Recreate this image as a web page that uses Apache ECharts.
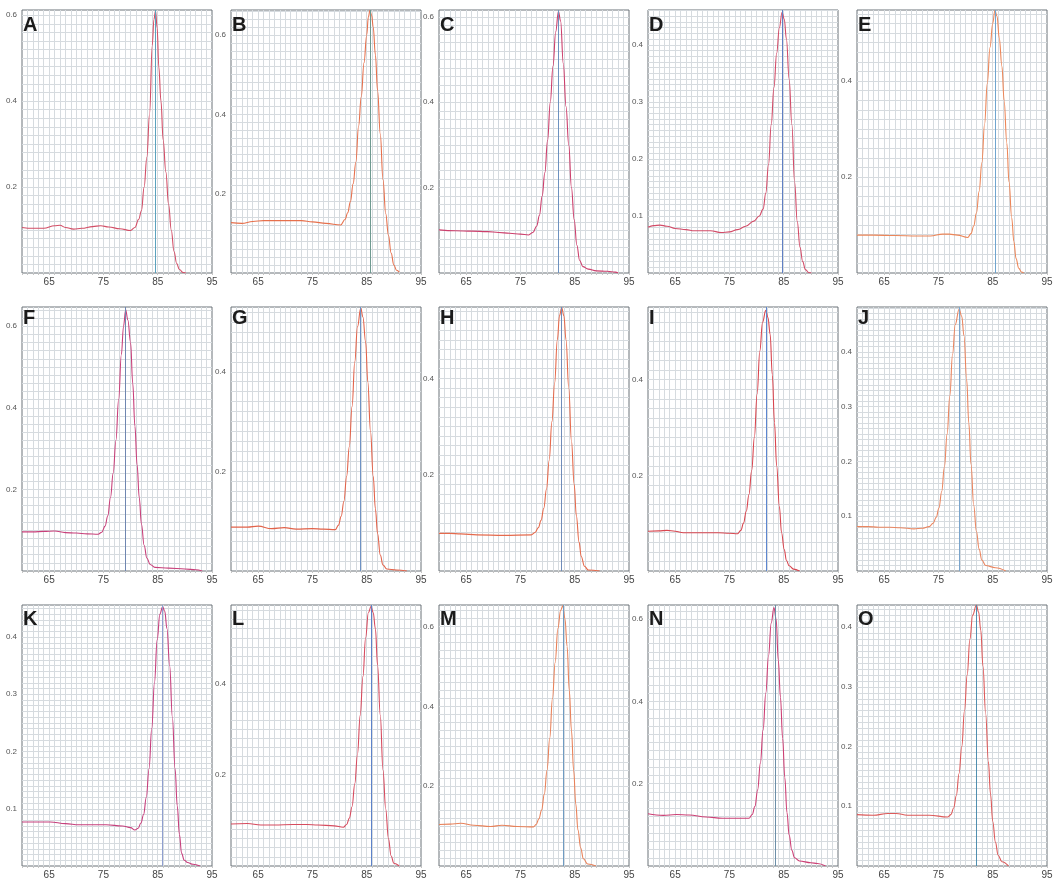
<!DOCTYPE html>
<html>
<head>
<meta charset="utf-8">
<title>Melt curves A-O</title>
<script src="https://cdn.jsdelivr.net/npm/echarts@6/dist/echarts.min.js"></script>
<style>
    html, body { margin: 0; padding: 0; background: #fff; }
    #main { width: 1060px; height: 880px; }
</style>
</head>
<body>
<div id="main"></div>
<script>
// derivative melt curves, [temperature, -dF/dT]
var curveA = [[60,0.106],[62,0.104],[64,0.104],[66,0.110],[67,0.111],[68,0.106],[69.5,0.102],[71,0.104],[73,0.108],[74.5,0.110],[76,0.107],[78,0.103],[80,0.099],[80.8,0.106],[81.5,0.125],[82,0.145],[82.5,0.2],[83,0.27],[83.5,0.37],[84,0.53],[84.3,0.59],[84.6,0.61],[84.9,0.57],[85.2,0.48],[85.6,0.40],[86,0.31],[86.5,0.235],[87,0.16],[87.5,0.10],[88,0.05],[88.5,0.022],[89,0.008],[89.7,0.001],[90.2,0]];
var curveB = [[60,0.127],[62,0.125],[64,0.13],[66,0.132],[70,0.132],[73,0.132],[75,0.129],[77.5,0.125],[80.2,0.121],[81,0.135],[81.5,0.152],[82,0.18],[82.5,0.225],[83,0.28],[83.5,0.37],[84,0.445],[84.5,0.53],[85,0.60],[85.3,0.645],[85.6,0.662],[85.9,0.65],[86.2,0.62],[86.6,0.55],[87,0.46],[87.5,0.35],[88,0.235],[88.5,0.15],[89,0.095],[89.5,0.05],[90,0.02],[90.5,0.007],[91,0.002]];
var curveC = [[60,0.101],[63,0.099],[66,0.098],[69,0.097],[71,0.095],[73,0.093],[75,0.091],[76.5,0.089],[77.3,0.095],[78,0.11],[78.5,0.135],[79,0.18],[79.5,0.235],[80,0.31],[80.5,0.40],[81,0.485],[81.5,0.565],[82,0.613],[82.4,0.59],[82.9,0.49],[83.4,0.39],[83.9,0.30],[84.4,0.20],[84.9,0.125],[85.4,0.065],[85.9,0.03],[86.5,0.015],[87.5,0.009],[89,0.005],[91,0.004],[92.5,0.002],[93,0]];
var curveD = [[60,0.080],[61,0.083],[62.2,0.084],[63.5,0.082],[65,0.078],[67,0.076],[68.5,0.074],[71.5,0.074],[73.5,0.071],[75,0.072],[76.5,0.076],[78,0.082],[79.5,0.091],[80.5,0.1],[81.2,0.112],[81.7,0.14],[82.2,0.19],[82.7,0.26],[83.2,0.325],[83.7,0.385],[84.2,0.43],[84.7,0.457],[85.1,0.445],[85.5,0.41],[86,0.34],[86.5,0.26],[87,0.16],[87.5,0.09],[88,0.045],[88.5,0.02],[89,0.006],[89.6,0.001],[90.1,0]];
var curveE = [[60,0.079],[63,0.079],[67,0.078],[71,0.077],[73.5,0.077],[75.8,0.081],[77,0.081],[78.5,0.079],[80.4,0.074],[81,0.082],[81.5,0.098],[82,0.125],[82.5,0.17],[83,0.23],[83.5,0.31],[84,0.395],[84.5,0.47],[85,0.52],[85.4,0.547],[85.8,0.535],[86.2,0.49],[86.7,0.43],[87.1,0.36],[87.6,0.27],[88,0.19],[88.5,0.115],[88.9,0.065],[89.3,0.03],[89.8,0.01],[90.3,0.002],[90.7,0]];
var curveF = [[60,0.096],[62,0.096],[64,0.097],[66,0.098],[68,0.094],[70,0.093],[72,0.091],[74,0.090],[74.7,0.095],[75.3,0.11],[75.8,0.135],[76.3,0.18],[76.8,0.24],[77.3,0.32],[77.8,0.42],[78.3,0.53],[78.7,0.6],[79.1,0.64],[79.5,0.615],[80,0.56],[80.4,0.46],[80.8,0.355],[81.2,0.26],[81.6,0.18],[82,0.115],[82.5,0.063],[83,0.032],[83.6,0.016],[84.5,0.009],[87,0.007],[90,0.005],[92,0.003],[93.2,0]];
var curveG = [[60,0.088],[63,0.088],[65,0.090],[67.5,0.085],[69.8,0.087],[72,0.084],[75,0.085],[77,0.084],[79.2,0.083],[79.8,0.092],[80.3,0.11],[80.8,0.14],[81.3,0.19],[81.8,0.25],[82.3,0.33],[82.8,0.42],[83.3,0.49],[83.9,0.528],[84.3,0.51],[84.8,0.46],[85.2,0.38],[85.7,0.28],[86.2,0.19],[86.6,0.125],[87,0.075],[87.5,0.032],[88,0.012],[88.7,0.004],[90.5,0.002],[92.4,0]];
var curveH = [[60,0.078],[62,0.078],[64,0.077],[67,0.075],[72,0.074],[77,0.075],[77.7,0.08],[78.3,0.09],[78.8,0.105],[79.3,0.13],[79.8,0.17],[80.3,0.23],[80.8,0.31],[81.3,0.39],[81.8,0.48],[82.2,0.53],[82.6,0.547],[83,0.53],[83.4,0.48],[83.9,0.38],[84.4,0.27],[84.9,0.18],[85.3,0.115],[85.8,0.06],[86.2,0.03],[86.8,0.01],[87.5,0.002],[89.6,0]];
var curveI = [[60,0.083],[62,0.084],[63.5,0.085],[65,0.083],[66.5,0.080],[70,0.080],[73,0.080],[75,0.079],[76.5,0.078],[77.1,0.085],[77.6,0.1],[78.1,0.125],[78.6,0.16],[79.1,0.21],[79.6,0.28],[80.1,0.37],[80.6,0.46],[81.1,0.52],[81.7,0.545],[82.1,0.53],[82.5,0.495],[82.9,0.41],[83.3,0.31],[83.7,0.22],[84.2,0.135],[84.6,0.08],[85.1,0.045],[85.5,0.022],[86,0.011],[86.8,0.004],[87.9,0]];
var curveJ = [[60,0.081],[62,0.081],[64,0.080],[66,0.080],[68,0.079],[70.5,0.077],[72,0.078],[73.3,0.081],[74,0.087],[74.6,0.098],[75.1,0.115],[75.6,0.145],[76.1,0.19],[76.6,0.25],[77.1,0.32],[77.6,0.395],[78.1,0.45],[78.8,0.478],[79.3,0.465],[79.7,0.43],[80.2,0.35],[80.6,0.27],[81,0.195],[81.5,0.12],[82,0.072],[82.5,0.04],[83,0.02],[83.7,0.01],[85.5,0.006],[87.4,0]];
var curveK = [[60,0.077],[63,0.077],[65.2,0.077],[68,0.074],[70.5,0.072],[73,0.072],[75.5,0.072],[78.5,0.070],[80,0.067],[80.8,0.063],[81.4,0.066],[81.9,0.075],[82.4,0.09],[82.9,0.12],[83.4,0.17],[83.9,0.24],[84.4,0.32],[84.9,0.395],[85.4,0.44],[85.9,0.453],[86.3,0.445],[86.7,0.415],[87.2,0.35],[87.7,0.26],[88.2,0.17],[88.6,0.105],[89,0.055],[89.4,0.022],[89.9,0.01],[90.5,0.006],[91.5,0.003],[92.8,0]];
var curveL = [[60,0.092],[63,0.093],[65.5,0.090],[68,0.090],[71.5,0.091],[74,0.091],[76,0.090],[79,0.088],[80.7,0.085],[81.3,0.091],[81.8,0.105],[82.3,0.13],[82.8,0.18],[83.3,0.245],[83.8,0.33],[84.3,0.415],[84.8,0.5],[85.3,0.555],[85.8,0.569],[86.2,0.555],[86.6,0.52],[87,0.44],[87.5,0.33],[88,0.21],[88.5,0.125],[89,0.06],[89.5,0.022],[90,0.006],[91,0]];
var curveM = [[60,0.104],[62,0.105],[64,0.107],[66.4,0.102],[69.5,0.099],[71.6,0.102],[74.4,0.099],[77.4,0.098],[77.9,0.104],[78.4,0.118],[78.9,0.14],[79.4,0.18],[79.9,0.24],[80.4,0.32],[80.9,0.42],[81.4,0.51],[81.9,0.595],[82.4,0.64],[82.8,0.652],[83.2,0.62],[83.6,0.55],[84,0.44],[84.4,0.34],[84.8,0.24],[85.2,0.155],[85.6,0.09],[86.1,0.045],[86.6,0.018],[87.4,0.005],[88.9,0]];
var curveN = [[60,0.127],[62.8,0.123],[65.2,0.125],[67.6,0.124],[70.7,0.119],[73.7,0.116],[76,0.116],[78.6,0.116],[79.2,0.125],[79.7,0.145],[80.2,0.185],[80.7,0.25],[81.2,0.33],[81.7,0.42],[82.2,0.51],[82.7,0.59],[83.2,0.628],[83.6,0.6],[84,0.5],[84.4,0.41],[84.8,0.31],[85.2,0.215],[85.6,0.13],[86,0.075],[86.5,0.038],[87,0.02],[87.9,0.012],[90,0.008],[91.2,0.006],[92.7,0]];
var curveO = [[60,0.086],[63,0.085],[65.7,0.088],[67.2,0.088],[69.3,0.085],[73.3,0.085],[76.7,0.082],[77.3,0.086],[77.8,0.097],[78.3,0.118],[78.8,0.155],[79.3,0.2],[79.8,0.26],[80.3,0.32],[80.8,0.38],[81.3,0.42],[82,0.437],[82.4,0.425],[82.8,0.395],[83.2,0.335],[83.7,0.255],[84.2,0.175],[84.6,0.12],[85,0.075],[85.5,0.04],[86,0.018],[86.7,0.007],[87.9,0]];

var panelNames = ['A', 'B', 'C', 'D', 'E', 'F', 'G', 'H', 'I', 'J', 'K', 'L', 'M', 'N', 'O'];
var curves = [curveA, curveB, curveC, curveD, curveE, curveF, curveG, curveH, curveI, curveJ, curveK, curveL, curveM, curveN, curveO];
var peakTemps = [84.5, 85.6, 82.0, 84.7, 85.4, 79.1, 83.9, 82.6, 81.7, 78.8, 85.9, 85.8, 82.9, 83.4, 82.0];
var yMaxes = [0.612, 0.663, 0.616, 0.461, 0.548, 0.647, 0.53, 0.548, 0.552, 0.482, 0.456, 0.572, 0.654, 0.634, 0.437];
var yLabelSteps = [0.2, 0.2, 0.2, 0.1, 0.2, 0.2, 0.2, 0.2, 0.2, 0.1, 0.1, 0.2, 0.2, 0.2, 0.1];
var xMin = 60, xMax = 95;

var meltPanels = (function () {
    var colLefts = [22, 231, 439, 648, 857];
    var rowTops = [10, 307, 605];
    var rowHeights = [263, 264, 263];
    var letterTops = [5, 1, 4];
    var lineColors = ['#d24e66', '#e6704c', '#cc3f6c', '#d24c68', '#ec8658', '#c8407a', '#e2634a', '#e56a4c',
        '#d8464f', '#ea8660', '#c63f7c', '#d64b5e', '#e8825a', '#cc3f74', '#dc5a5a'];
    var markColors = ['#5ba2bd', '#6e9a90', '#6d92c0', '#5f7fc4', '#6fa5cf', '#6f86b0', '#6e92c4', '#6f8cba',
        '#5c86d0', '#79a4cc', '#8f9fd0', '#5c82c9', '#6f9bc2', '#6c8fa8', '#4f8fb0'];
    var Return = {
        init: function () {
            var myChart = echarts.init(document.getElementById('main'));
            myChart.setOption(buildOption());
        }
    }
    var yFormatter = function (step) {
        return function (v) {
            var k = v / step;
            if (v > 0 && Math.abs(k - Math.round(k)) < 1e-6) {
                return v.toFixed(1);
            }
            return '';
        }
    }
    var buildOption = function () {
        var grids = [], xAxes = [], yAxes = [], series = [], titles = [];
        for (var i = 0; i < panelNames.length; i++) {
            var row = Math.floor(i / 5), col = i % 5;
            grids.push({
                left: colLefts[col],
                top: rowTops[row],
                width: 190,
                height: rowHeights[row],
                show: true,
                borderColor: '#6a7379',
                borderWidth: 1,
                backgroundColor: '#fff'
            });
            titles.push({
                text: panelNames[i],
                left: colLefts[col] + 1,
                top: rowTops[row] + letterTops[row],
                padding: 0,
                textStyle: { fontSize: 20, fontWeight: 'bold', color: '#1b1b1b', fontFamily: 'Liberation Sans' }
            });
            xAxes.push({
                gridIndex: i,
                type: 'value',
                min: xMin,
                max: xMax,
                interval: 1,
                axisLine: { show: false },
                axisTick: { show: true, length: 2, lineStyle: { color: '#c4c4c4' } },
                axisLabel: {
                    fontSize: 10,
                    color: '#444',
                    margin: 4,
                    fontFamily: 'Liberation Sans',
                    formatter: function (v) { return (Math.round(v) % 10 === 5) ? String(Math.round(v)) : ''; }
                },
                splitLine: { show: true, showMinLine: false, showMaxLine: false, lineStyle: { color: '#d6dbdf', width: 1 } }
            });
            yAxes.push({
                gridIndex: i,
                type: 'value',
                min: 0,
                max: yMaxes[i],
                interval: yLabelSteps[i] / 10,
                axisLine: { show: false },
                axisTick: { show: false },
                axisLabel: {
                    fontSize: 8,
                    color: '#555',
                    margin: 5,
                    fontFamily: 'Liberation Sans',
                    formatter: yFormatter(yLabelSteps[i])
                },
                splitLine: { show: true, showMinLine: false, showMaxLine: false, lineStyle: { color: '#d6dbdf', width: 1 } }
            });
            series.push({
                type: 'line',
                xAxisIndex: i,
                yAxisIndex: i,
                data: curves[i],
                smooth: 0.4,
                smoothMonotone: 'x',
                showSymbol: false,
                lineStyle: { color: lineColors[i], width: 1.1 },
                z: 3,
                markLine: {
                    silent: true,
                    symbol: 'none',
                    label: { show: false },
                    lineStyle: { color: markColors[i], width: 1, type: 'solid' },
                    data: [{ xAxis: peakTemps[i] }]
                }
            });
        }
        return {
            animation: false,
            backgroundColor: '#fff',
            title: titles,
            grid: grids,
            xAxis: xAxes,
            yAxis: yAxes,
            series: series
        };
    }
    return Return;
})();

; (function () {
    meltPanels.init();
})();
</script>
</body>
</html>
